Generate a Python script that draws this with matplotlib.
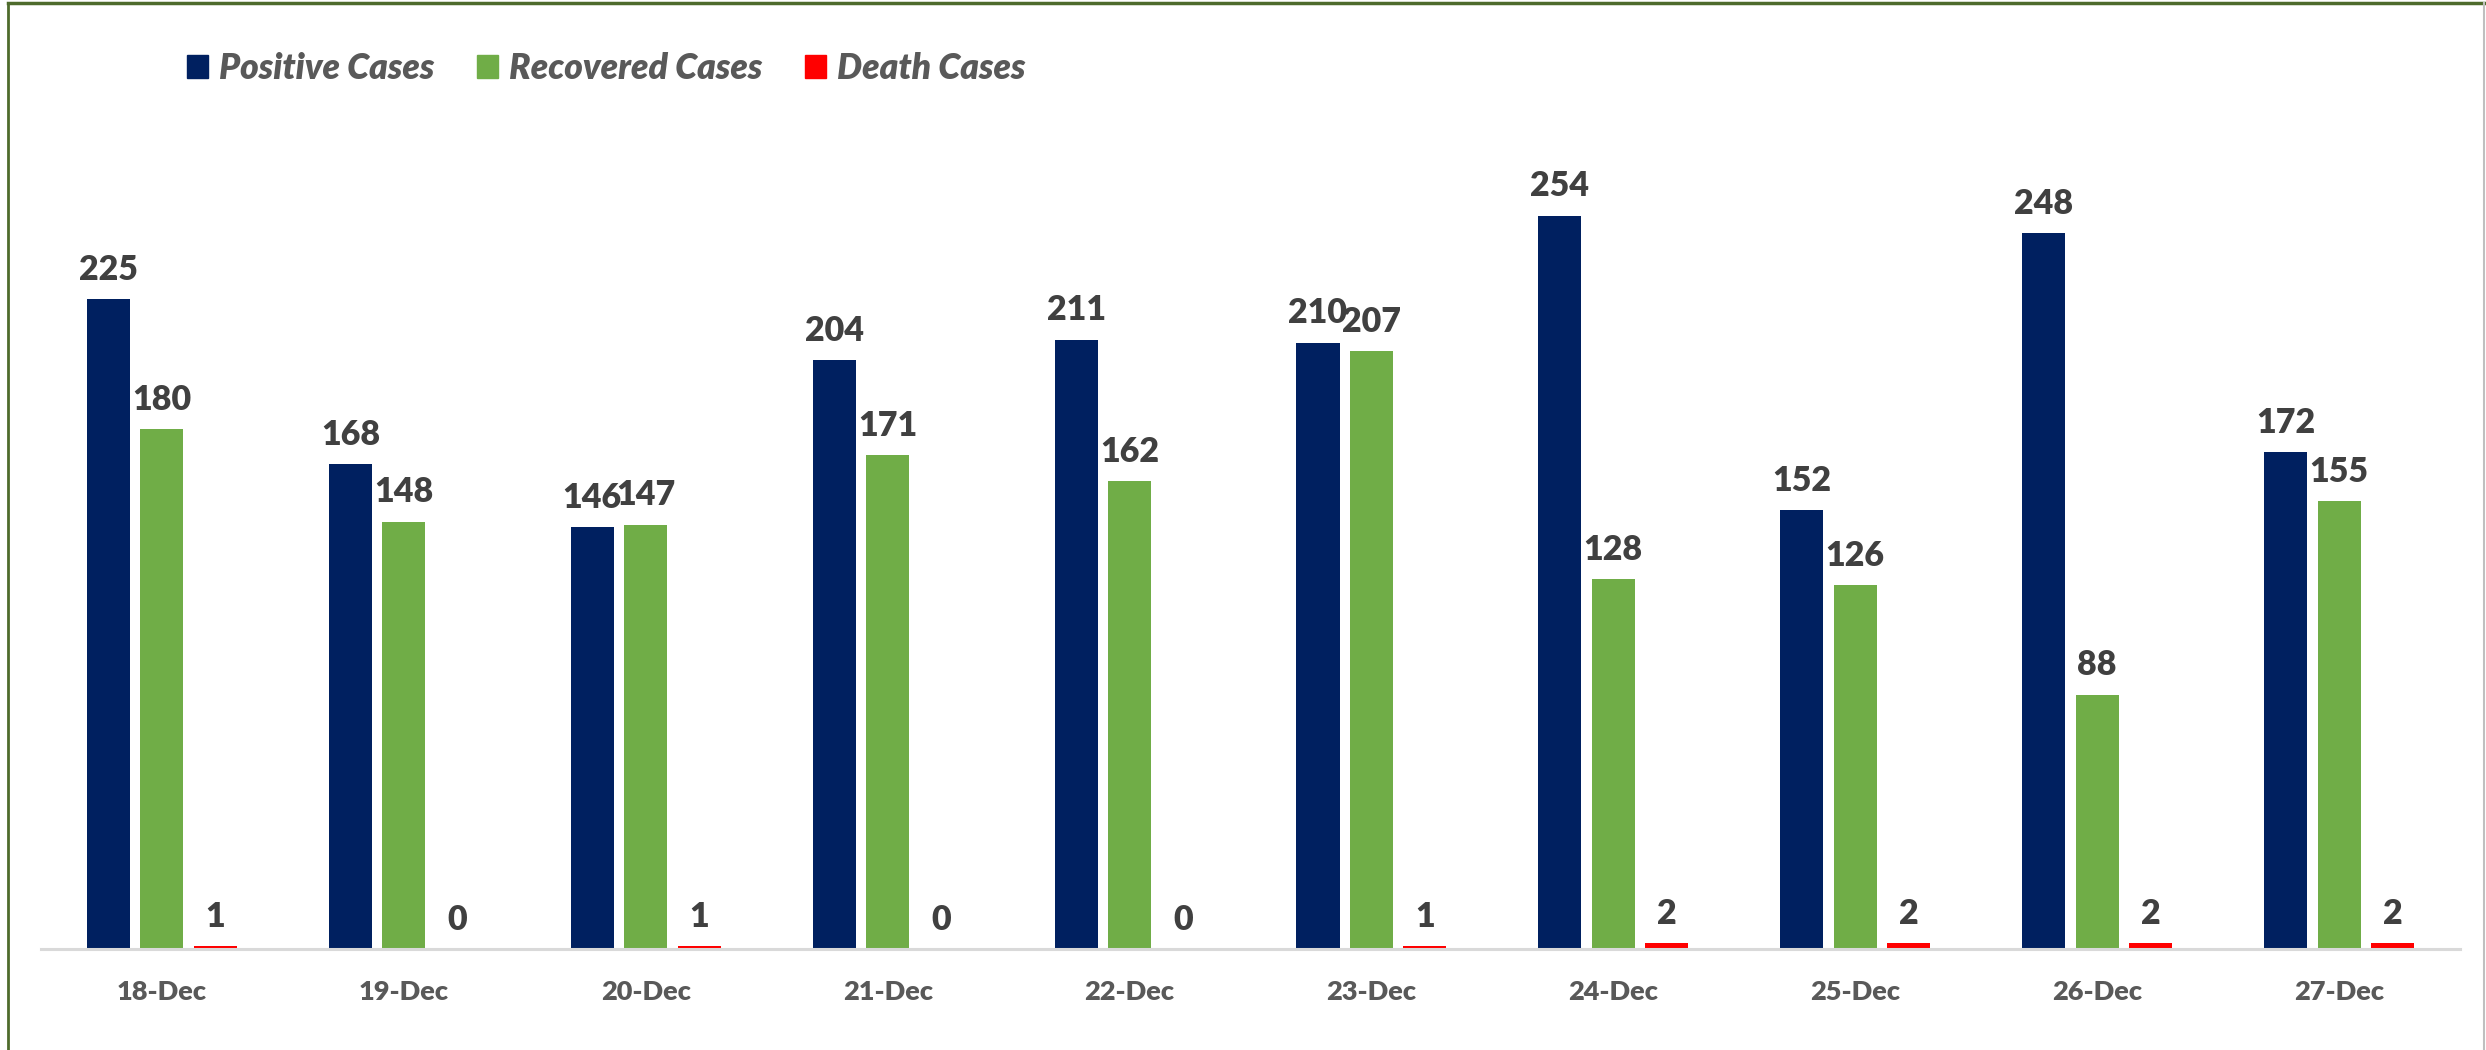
import matplotlib.pyplot as plt
import numpy as np
from matplotlib.lines import Line2D
from matplotlib.patches import Patch

# dati
days = ['18-Dec', '19-Dec', '20-Dec', '21-Dec', '22-Dec',
        '23-Dec', '24-Dec', '25-Dec', '26-Dec', '27-Dec']
positive = [225, 168, 146, 204, 211, 210, 254, 152, 248, 172]
recovered = [180, 148, 147, 171, 162, 207, 128, 126, 88, 155]
deaths = [1, 0, 1, 0, 0, 1, 2, 2, 2, 2]

series = [
    ('Positive Cases', positive, '#002060'),
    ('Recovered Cases', recovered, '#70AD47'),
    ('Death Cases', deaths, '#FF0000'),
]

plt.rcParams['font.family'] = ['Lato', 'DejaVu Sans']

W, H = 2486, 1050
fig = plt.figure(figsize=(W / 100, H / 100), dpi=100)
ax = fig.add_axes([41 / W, 1 - 949 / H, (2460 - 41) / W, (949 - 140.6) / H])

x = np.arange(len(days))
width = 0.178
offsets = [-0.221, 0.0, 0.221]

for (name, vals, col), off in zip(series, offsets):
    bars = ax.bar(x + off, vals, width, color=col, label=name, zorder=2)
    for b, v in zip(bars, vals):
        ax.annotate(str(v), (b.get_x() + b.get_width() / 2, v),
                    xytext=(0, 14), textcoords='offset points',
                    ha='center', va='baseline', fontsize=24.5,
                    fontweight='heavy', color='#404040')

ax.set_xlim(-0.5, len(days) - 0.5)
ax.set_ylim(0, 280)
ax.set_xticks(x)
ax.set_xticklabels(days, fontsize=19.5, fontweight='heavy', color='#595959')
ax.tick_params(axis='x', length=0, pad=22)
ax.set_yticks([])
for s in ['top', 'left', 'right']:
    ax.spines[s].set_visible(False)
ax.spines['bottom'].set_color('#D9D9D9')
ax.spines['bottom'].set_linewidth(2.2)

handles = [Patch(color=c) for _, _, c in series]
leg = fig.legend(handles, [n for n, _, _ in series], loc='upper left',
                 bbox_to_anchor=(173 / W, 1 - 38 / H), ncol=3, frameon=False,
                 handlelength=0.6, handleheight=0.6, handletextpad=0.3,
                 columnspacing=1.2, borderaxespad=0,
                 prop={'size': 25.5, 'weight': 'heavy', 'style': 'italic'})
for t in leg.get_texts():
    t.set_color('#595959')

# cornice
green = '#4E6B2C'
fig.add_artist(Line2D([8 / W, 2484 / W], [1 - 3 / H, 1 - 3 / H],
                      color=green, linewidth=2.5))
fig.add_artist(Line2D([8 / W, 8 / W], [0, 1 - 3 / H],
                      color=green, linewidth=2.0))
fig.add_artist(Line2D([2484 / W, 2484 / W], [0, 1 - 3 / H],
                      color='#BFBFBF', linewidth=1.5))

fig.savefig('out.png', dpi=100)
